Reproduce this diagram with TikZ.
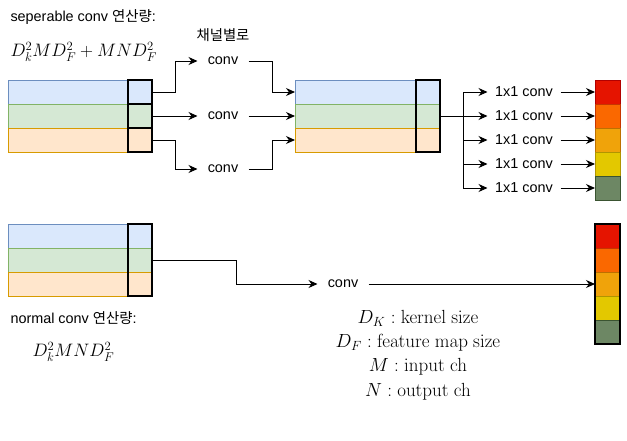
\RequirePackage{fix-cm}
\documentclass[tikz,border=0pt]{standalone}
\usepackage{amsmath}
\usepackage[no-math]{fontspec}
\setmainfont{Liberation Sans}
\newfontfamily\kor{Noto Sans CJK KR}
\usetikzlibrary{arrows.meta}

\definecolor{fillblue}{HTML}{DAE8FC}
\definecolor{lineblue}{HTML}{6C8EBF}
\definecolor{fillgreen}{HTML}{D5E8D4}
\definecolor{linegreen}{HTML}{82B366}
\definecolor{fillorange}{HTML}{FFE6CC}
\definecolor{lineorange}{HTML}{D79B00}
\definecolor{outa}{HTML}{E51400}
\definecolor{outaline}{HTML}{B20000}
\definecolor{outb}{HTML}{FA6800}
\definecolor{outbline}{HTML}{C73500}
\definecolor{outc}{HTML}{F0A30A}
\definecolor{outcline}{HTML}{BD7000}
\definecolor{outd}{HTML}{E3C800}
\definecolor{outdline}{HTML}{B09500}
\definecolor{oute}{HTML}{6D8764}
\definecolor{outeline}{HTML}{3A5431}

\begin{document}
\begin{tikzpicture}[x=1pt,y=-1pt,line width=1pt,
  every node/.style={font=\fontsize{14.4}{17}\selectfont},
  row/.style={draw, minimum width=144pt, minimum height=24pt, inner sep=0pt, outer sep=0pt, anchor=north west},
  kbox/.style={draw=black, line width=2pt, minimum width=24pt, inner sep=0pt, outer sep=0pt, anchor=north west},
  cell/.style={draw, minimum width=25pt, minimum height=24pt, inner sep=0pt, outer sep=0pt, anchor=north west},
  conv/.style={minimum width=50pt, inner sep=0pt},
  pconv/.style={minimum width=72pt, inner sep=0pt},
  arr/.style={-{Stealth[length=9pt,width=8pt]}},
  mathtxt/.style={font=\fontsize{18}{21}\selectfont, inner sep=0pt},
  legendtxt/.style={font=\fontsize{19}{22}\selectfont, inner sep=0pt},
]
\useasboundingbox (0,0) rectangle (627,440);

%% Titles and cost
\node[anchor=west, inner sep=0pt] (septitle) at (10,17) {seperable conv {\kor 연산량}:};
\node[mathtxt, anchor=west] (sepcost) at (10,52) {$D_k^2MD_F^2+MND_F^2$};
\node[anchor=west, inner sep=0pt] (normtitle) at (10,318) {normal conv {\kor 연산량}:};
\node[mathtxt, anchor=west] (normcost) at (32,352) {$D_k^2MND_F^2$};

%% Seperable conv input
\node[row, draw=lineblue, fill=fillblue] (s1) at (8,80) {};
\node[row, draw=linegreen, fill=fillgreen] (s2) at (8,104) {};
\node[row, draw=lineorange, fill=fillorange] (s3) at (8,128) {};
\node[kbox, minimum height=24pt] (k1) at (128,80) {};
\node[kbox, minimum height=24pt] (k2) at (128,104) {};
\node[kbox, minimum height=24pt] (k3) at (128,128) {};

%% Depthwise conv
\node (chan) at (223,35) {\kor 채널별로};
\node[conv] (c1) at (223,61) {conv};
\node[conv] (c2) at (223,116) {conv};
\node[conv] (c3) at (223,169) {conv};
\draw[arr] (k1.east) -- ++(23,0) |- (c1.west);
\draw[arr] (k2.east) -- (c2.west);
\draw[arr] (k3.east) -- ++(23,0) |- (c3.west);

%% Middle feature map
\node[row, draw=lineblue, fill=fillblue] (m1) at (295,80) {};
\node[row, draw=linegreen, fill=fillgreen] (m2) at (295,104) {};
\node[row, draw=lineorange, fill=fillorange] (m3) at (295,128) {};
\node[kbox, minimum height=72pt] (km) at (416,80) {};
\draw[arr] (c1.east) -- ++(24,0) |- (m1.west);
\draw[arr] (c2.east) -- (m2.west);
\draw[arr] (c3.east) -- ++(24,0) |- (m3.west);

%% Pointwise conv
\draw (km.east) -- ++(23,0) coordinate (br);
\foreach \c [count=\i] in {outa,outb,outc,outd,oute}{
  \node[pconv] (p\i) at (524,68+24*\i) {1x1 conv};
  \node[cell, fill=\c, draw=\c line] (o\i) at (595,56+24*\i) {};
  \draw[arr] (br) |- (p\i.west);
  \draw[arr] (p\i.east) -- (o\i.west);
}

%% Normal conv
\node[row, draw=lineblue, fill=fillblue] (n1) at (8,224) {};
\node[row, draw=linegreen, fill=fillgreen] (n2) at (8,248) {};
\node[row, draw=lineorange, fill=fillorange] (n3) at (8,272) {};
\node[kbox, minimum height=72pt] (kn) at (128,224) {};
\node[conv] (cn) at (343,284) {conv};
\foreach \c [count=\i] in {outa,outb,outc,outd,oute}{
  \node[cell, fill=\c, draw=\c line] (q\i) at (595,200+24*\i) {};
}
\node[kbox, minimum width=25pt, minimum height=120pt] (qb) at (595,224) {};
\draw[arr] (kn.east) -- ++(84,0) |- (cn.west);
\draw[arr] (cn.east) -- (qb.west);

%% Legend
\node[legendtxt] (lk) at (418,318) {$D_K : \mathrm{kernel\ size}$};
\node[legendtxt] (lf) at (418,343) {$D_F : \mathrm{feature\ map\ size}$};
\node[legendtxt] (lm) at (418,367) {$M : \mathrm{input\ ch}$};
\node[legendtxt] (ln) at (418,392) {$N : \mathrm{output\ ch}$};

\end{tikzpicture}
\end{document}
